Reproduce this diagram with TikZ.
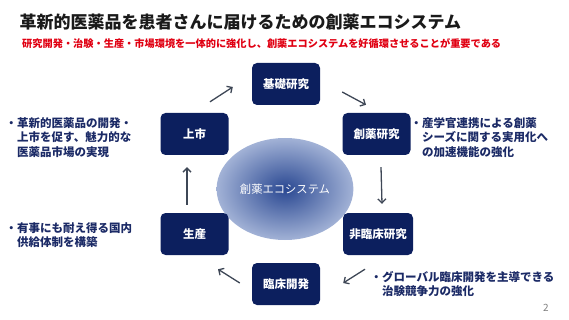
\documentclass[tikz,border=0pt]{standalone}
\usepackage{fontspec}
\setmainfont{Noto Sans CJK JP}
\usetikzlibrary{shapes.geometric,arrows.meta}
\definecolor{navy}{HTML}{0C1F5E}
\definecolor{notecol}{HTML}{1B2A66}
\definecolor{arrowcol}{HTML}{3E4756}
\definecolor{titlecol}{HTML}{1A1A1A}
\definecolor{subred}{HTML}{E00012}
\definecolor{ecoin}{HTML}{2A4892}
\definecolor{ecoout}{HTML}{A2B2D6}
\begin{document}
\begin{tikzpicture}[x=1pt, y=-1pt,
  stage/.style={fill=navy, rounded corners=5pt, minimum width=68pt, minimum height=42pt, inner sep=0pt, text=white, font=\fontsize{11.5}{13}\selectfont\bfseries},
  note/.style={anchor=west, align=left, inner sep=0pt, text=notecol, font=\fontsize{11.5}{14.5}\selectfont\bfseries},
  flow/.style={draw=arrowcol, line width=1.3pt, -{Straight Barb[length=4pt,width=8pt]}}]
\useasboundingbox (0,0) rectangle (569,320);

\node[anchor=west, inner sep=0pt, text=titlecol, font=\fontsize{17}{20}\selectfont\bfseries] (title) at (19.5,22.5) {革新的医薬品を患者さんに届けるための創薬エコシステム};
\node[anchor=west, inner sep=0pt, text=subred, font=\fontsize{10.2}{12}\selectfont\bfseries] (sub) at (22,44) {研究開発・治験・生産・市場環境を一体的に強化し、創薬エコシステムを好循環させることが重要である};

\node[ellipse, minimum width=126pt, minimum height=102pt, inner color=ecoin, outer color=ecoout, text=white, font=\fontsize{11.3}{13}\selectfont] (e) at (285,189) {創薬エコシステム};

\node[stage] (k) at (286,84) {基礎研究};
\node[stage] (s) at (376.5,134) {創薬研究};
\node[stage, minimum width=70pt] (h) at (378,234) {非臨床研究};
\node[stage] (r) at (286,284) {臨床開発};
\node[stage] (p) at (194.5,234) {生産};
\node[stage] (u) at (194.5,134) {上市};

\draw[flow] ([shift={(15.5,-11)}]u.north) -- ([shift={(-19,3)}]k.west);
\draw[flow] ([shift={(22,8)}]k.east) -- ([shift={(-10.5,-8)}]s.north);
\draw[flow] ([shift={(4.5,12)}]s.south) -- ([shift={(4,-9)}]h.north);
\draw[flow] ([shift={(-13,14)}]h.south) -- ([shift={(23,-1)}]r.east);
\draw[flow] ([shift={(-12,-1)}]r.west) -- ([shift={(23.5,14)}]p.south);
\draw[flow] ([shift={(-7.5,-8)}]p.north) -- ([shift={(-7.5,12)}]u.south);

\node[note] (n1) at (17,137.5) {\llap{・}革新的医薬品の開発・\\上市を促す、魅力的な\\医薬品市場の実現};
\node[note] (n2) at (422,137.5) {\llap{・}産学官連携による創薬\\シーズに関する実用化へ\\の加速機能の強化};
\node[note] (n3) at (17,235) {\llap{・}有事にも耐え得る国内\\供給体制を構築};
\node[note] (n4) at (382,284) {\llap{・}グローバル臨床開発を主導できる\\治験競争力の強化};

\node[inner sep=0pt, text=gray, font=\fontsize{10}{12}\selectfont] (pg) at (546,308) {2};
\end{tikzpicture}
\end{document}
